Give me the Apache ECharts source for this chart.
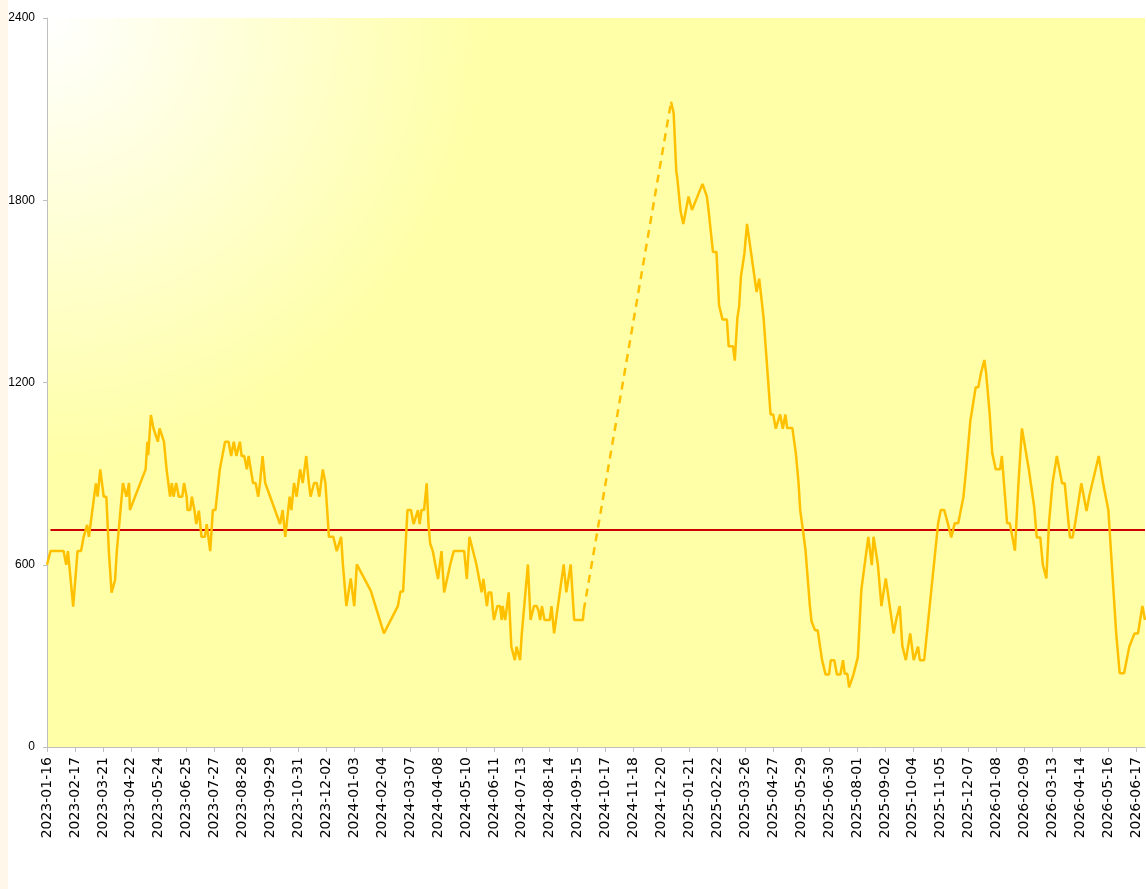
<!DOCTYPE html>
<html>
<head>
<meta charset="utf-8">
<title>line</title>
<script src="https://cdn.jsdelivr.net/npm/echarts@6/dist/echarts.min.js"></script>
<style>
  *{margin:0;padding:0;}
  body{background:#fff;}
  #main{width:1146px;height:889px;}
</style>
</head>
<body>
<div id="main"></div>
<script>
// day offsets from 2023-01-16, one label every 32 days
var startDate = '2023-01-16';
var lastDay = 1258;
var labelStep = 32;

// main series (null = gap that is bridged by the dashed line)
var days = [
  0,4,19,22,24,30,35,39,42,46,48,52,56,58,61,65,68,71,74,78,80,87,89,91,94,95,
  113,115,116,119,122,124,127,129,134,137,141,143,145,148,150,151,155,157,160,161,164,166,169,171,174,177,181,183,187,190,193,
  198,200,204,208,211,214,217,221,223,226,229,231,233,236,239,242,244,247,250,
  267,270,273,275,278,280,283,286,290,292,293,297,300,302,304,306,309,312,316,319,320,323,328,332,334,337,339,341,343,348,352,355,
  371,386,402,405,408,413,417,420,422,425,427,429,432,435,437,439,442,444,448,450,452,455,457,462,464,466,
  478,481,484,485,492,498,500,502,504,506,509,512,514,516,519,521,522,525,529,532,534,536,538,542,544,546,
  551,554,556,558,561,563,565,567,570,576,578,581,583,592,595,600,604,614,615,
  665,
  715,718,721,722,726,729,730,735,739,751,756,758,760,763,767,770,772,774,779,781,786,788,791,793,795,799,802,
  813,814,816,821,823,829,832,835,837,840,843,846,848,854,858,861,863,866,869,871,874,876,880,883,886,888,890,
  892,896,898,902,905,909,912,914,917,919,921,924,926,929,933,941,942,945,947,952,956,961,963,970,973,974,977,
  980,981,984,989,993,995,998,1000,1005,1021,1024,1028,1032,1033,1036,1038,1040,1044,1047,1050,1053,1058,1059,1061,
  1064,1067,1070,1074,1076,1080,1083,1087,1092,1094,1096,1100,1103,1109,1110,1113,1117,1125,1131,1134,1138,1141,1143,
  1145,1148,1152,1157,1159,1163,1166,1172,1175,1178,1180,1185,1187,1191,1192,1194,1196,1205,1210,1212,1216,1225,1229,
  1234,1240,1242,1246,1250,1255,1258
];
var values = [
  600,645,645,600,645,462,645,645,692,731,692,780,868,824,914,824,824,638,508,550,645,869,869,824,869,780,
  914,1005,961,1093,1049,1045,1005,1049,1005,914,824,869,824,869,869,824,824,869,824,780,780,824,778,734,778,692,692,734,645,780,780,
  914,914,1005,1005,958,1005,958,1005,958,958,914,958,958,869,869,824,869,958,869,
  734,780,692,692,824,780,869,824,914,914,869,958,869,824,824,869,869,824,914,869,869,692,692,645,645,692,601,601,464,555,464,601,
  514,374,464,512,512,780,780,734,734,780,734,780,780,868,736,670,645,645,553,553,645,509,509,601,601,645,
  645,553,692,692,601,509,553,553,464,509,509,418,418,464,464,418,464,418,509,330,330,286,330,286,374,374,
  601,418,418,464,464,450,418,464,418,418,464,374,374,601,509,601,418,418,450,
  null,
  2124,2086,1894,1877,1762,1722,1722,1812,1768,1854,1813,1766,1766,1630,1630,1454,1450,1407,1407,1319,1319,1272,1413,1450,1548,1624,1722,
  1498,1498,1542,1413,1408,1095,1095,1048,1048,1095,1048,1095,1050,1050,966,872,778,716,649,649,466,413,384,384,325,286,286,
  239,239,286,286,239,239,286,241,241,196,196,239,239,296,517,692,692,599,692,599,464,555,555,374,420,420,464,
  332,332,286,374,286,286,330,286,286,737,780,780,737,737,690,690,737,737,780,824,912,1077,1093,1093,
  1184,1184,1230,1274,1230,1099,967,914,914,958,958,737,737,646,646,868,1049,912,791,690,690,599,599,
  555,737,868,958,958,868,868,690,690,737,737,868,868,777,777,824,824,958,868,868,780,374,243,
  243,330,330,374,374,464,418
];

// dashed bridge over the missing stretch
var gapDays = [615, 715];
var gapValues = [450, 2124];

// red reference level
var refDays = [4, 1258];
var refValue = 714;

function dayToDate(d) {
  var t = new Date(startDate + 'T00:00:00Z').getTime() + d * 86400000;
  return new Date(t).toISOString().slice(0, 10);
}

var mainData = days.map(function (d, i) { return [d, values[i] === null ? '-' : values[i]]; });
var gapData = gapDays.map(function (d, i) { return [d, gapValues[i]]; });
var refData = refDays.map(function (d) { return [d, refValue]; });

var myChart = echarts.init(document.getElementById('main'));
var option = {
  animation: false,
  backgroundColor: '#ffffff',
  graphic: [{
    type: 'rect',
    left: 0, top: 0,
    shape: {width: 8, height: 889},
    style: {fill: '#FFF8EA'},
    silent: true
  }],
  grid: {
    left: 47, right: 1, top: 18, bottom: 142,
    show: true,
    borderWidth: 0,
    backgroundColor: new echarts.graphic.RadialGradient(0, 0, 0.6, [
      {offset: 0, color: '#FFFFFF'},
      {offset: 1, color: '#FFFFA8'}
    ])
  },
  xAxis: {
    type: 'value',
    min: 0,
    max: lastDay,
    interval: labelStep,
    splitLine: {show: false},
    axisLine: {onZero: false, lineStyle: {color: '#BFBFBF', width: 1}},
    axisTick: {show: true, length: 5, lineStyle: {color: '#BFBFBF'}},
    axisLabel: {
      rotate: 90,
      margin: 10,
      showMaxLabel: false,
      color: '#000',
      fontFamily: 'DejaVu Sans',
      fontSize: 14,
      formatter: function (v) { return dayToDate(v); }
    }
  },
  yAxis: {
    type: 'value',
    min: 0,
    max: 2400,
    interval: 600,
    splitLine: {show: false},
    axisLine: {show: true, lineStyle: {color: '#BFBFBF', width: 1}},
    axisTick: {show: true, length: 4, lineStyle: {color: '#BFBFBF'}},
    axisLabel: {
      margin: 12,
      color: '#000',
      fontFamily: 'Liberation Sans',
      fontSize: 12,
      formatter: function (v) { return String(v); }
    }
  },
  series: [
    {
      type: 'line',
      data: refData,
      showSymbol: false,
      lineStyle: {color: '#CC0000', width: 2},
      z: 2
    },
    {
      type: 'line',
      data: gapData,
      showSymbol: false,
      lineStyle: {color: '#FFC000', width: 2.5, type: [8, 6]},
      z: 3
    },
    {
      type: 'line',
      data: mainData,
      connectNulls: false,
      showSymbol: false,
      lineStyle: {color: '#FFC000', width: 2.5},
      z: 3
    }
  ]
};
myChart.setOption(option);
</script>
</body>
</html>
